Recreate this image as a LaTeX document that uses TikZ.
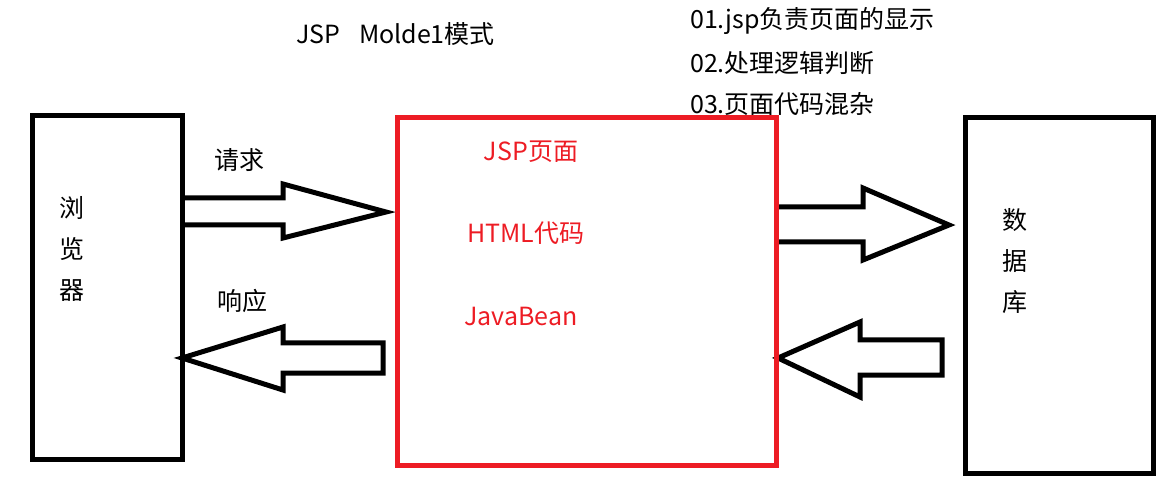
\documentclass[tikz,border=0pt]{standalone}
\usepackage{fontspec}
\setmainfont{Noto Sans CJK SC}
\definecolor{paintred}{RGB}{237,28,36}
\tikzset{
  box/.style={draw, line width=5pt, anchor=north west, inner sep=0pt},
  blockarrow/.style={draw, line width=5pt, line join=miter},
  label/.style={font=\fontsize{25}{41}\selectfont, inner sep=0pt, align=center}
}
\begin{document}
\begin{tikzpicture}[x=1pt,y=-1pt]
    \useasboundingbox (0,0) rectangle (1163,481);
    % arrows between browser, page and database
    \draw[blockarrow] (180,198)--(283,198)--(283,184)--(386,212)--(283,238)--(283,225)--(180,225);
    \draw[blockarrow] (383,343)--(383,373)--(283,373)--(283,390)--(182,358)--(283,327)--(283,343)--cycle;
    \draw[blockarrow] (775,207)--(863,207)--(863,188)--(949,225)--(863,260)--(863,242)--(775,242);
    \draw[blockarrow] (942,340)--(942,375)--(860,375)--(860,397)--(778,358)--(860,322)--(860,340)--cycle;
    % boxes
    \node (browser) [box, minimum width=150, minimum height=344] at (29.5,113) {};
    \node (jsp) [box, draw=paintred, minimum width=379, minimum height=348] at (394.5,115) {};
    \node (db) [box, minimum width=188, minimum height=356] at (963,115) {};
    % texts
    \node (title) [label, anchor=west] at (296,34) {JSP\hspace{0.75em}Molde1模式};
    \node (note1) [label, anchor=west] at (690,21) {01.jsp负责页面的显示};
    \node (note2) [label, anchor=west] at (690,63) {02.处理逻辑判断};
    \node (note3) [label, anchor=west] at (690,104) {03.页面代码混杂};
    \node (req) [label] at (239,160) {请求};
    \node (resp) [label] at (242,301) {响应};
    \node (browsertext) [label] at (72,249) {浏\\览\\器};
    \node (dbtext) [label] at (1015,261) {数\\据\\库};
    \node (page) [label, text=paintred] at (531,152) {JSP页面};
    \node (html) [label, text=paintred] at (526,233) {HTML代码};
    \node (bean) [label, text=paintred] at (521,317) {JavaBean};
\end{tikzpicture}
\end{document}
